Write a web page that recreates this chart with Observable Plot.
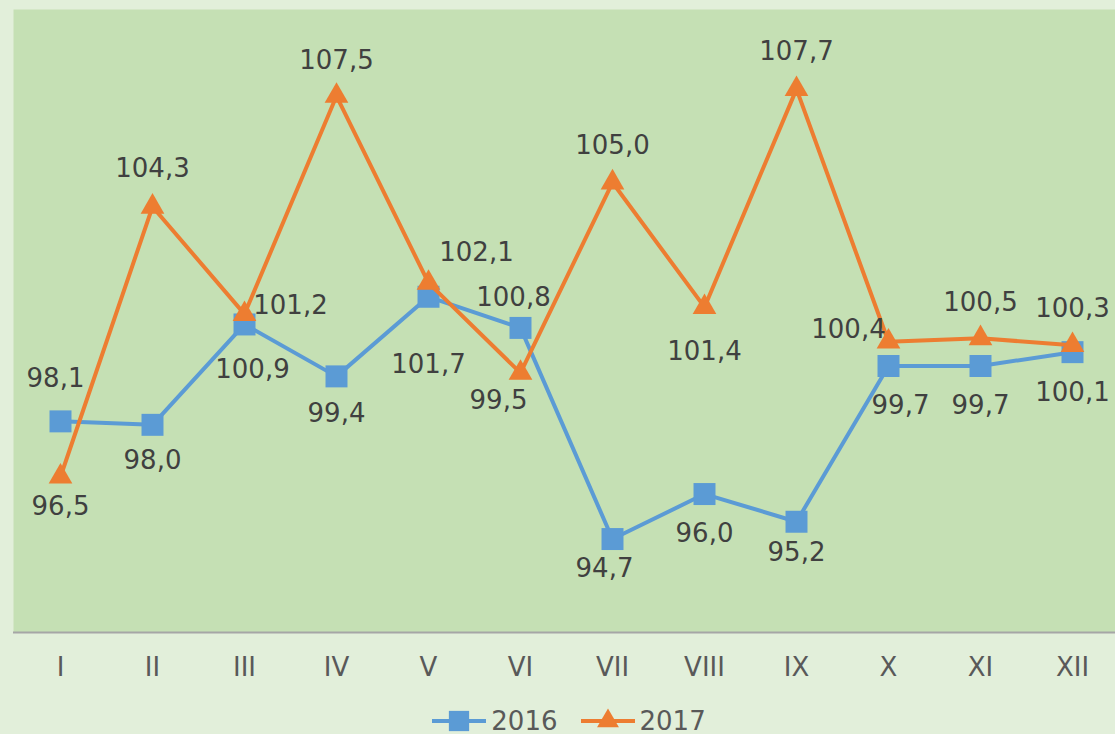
<!DOCTYPE html>
<html>
<head>
<meta charset="utf-8">
<script src="https://cdn.jsdelivr.net/npm/d3@7"></script>
<script src="https://cdn.jsdelivr.net/npm/@observablehq/plot@0.6"></script>
<style>
  html, body { margin: 0; padding: 0; background: #e2efda; overflow: hidden; }
  #legend { display: flex; justify-content: center; align-items: center; height: 28px; margin-top: 1px;
    font-family: "DejaVu Sans", Verdana, sans-serif; font-size: 26px; color: #595959; padding-left: 22px; }
  .item { display: flex; align-items: center; margin: 0 11px; }
  .item svg { margin-right: 4px; }
</style>
</head>
<body>
<div id="chart"></div>
<div id="legend"></div>
<script>
const months = ["I","II","III","IV","V","VI","VII","VIII","IX","X","XI","XII"];
const values2016 = [98.1, 98.0, 100.9, 99.4, 101.7, 100.8, 94.7, 96.0, 95.2, 99.7, 99.7, 100.1];
const values2017 = [96.5, 104.3, 101.2, 107.5, 102.1, 99.5, 105.0, 101.4, 107.7, 100.4, 100.5, 100.3];
const seriesNames = ["2016", "2017"];

// label placement (styling only): [dx, dy] from each point
const labelOffsets2016 = [[-5,-43],[0,36],[8,45],[0,37],[0,68],[-7,-30],[-8,30],[0,40],[0,31],[12,40],[0,40],[0,41]];
const labelOffsets2017 = [[0,30],[0,-38],[46,-8],[0,-35],[48,-30],[-22,28],[0,-37],[0,45],[0,-37],[-40,-12],[0,-36],[0,-37]];

const colors = {"2016": "#5b9bd5", "2017": "#ed7d31"};
const symbols = {"2016": "square", "2017": "triangle"};
const radii = {"2016": 12.4, "2017": 8.8};
const fmt = v => d3.format(".1f")(v).replace(".", ",");

const s2016 = months.map((m, i) => ({month: m, value: values2016[i], off: labelOffsets2016[i]}));
const s2017 = months.map((m, i) => ({month: m, value: values2017[i], off: labelOffsets2017[i]}));
const series = [["2016", s2016], ["2017", s2017]];

const font = '"DejaVu Sans", Verdana, sans-serif';
const marks = [
  Plot.frame({fill: "#c5e0b4", stroke: null}),
  Plot.ruleY([92], {stroke: "#a6a6a6", strokeWidth: 2}),
  Plot.axisX({tickSize: 0, tickPadding: 25, fontSize: 26, fill: "#595959", label: null, fontFamily: font})
];
for (const [name, data] of series) {
  marks.push(Plot.line(data, {x: "month", y: "value", stroke: colors[name], strokeWidth: 4}));
  marks.push(Plot.dot(data, {x: "month", y: "value", symbol: symbols[name], r: radii[name], fill: colors[name], stroke: null}));
}
for (const [name, data] of series) {
  for (const d of data) {
    marks.push(Plot.text([d], {x: "month", y: "value", text: d => fmt(d.value), dx: d.off[0], dy: d.off[1],
      fontSize: 26, fill: "#404040", fontFamily: font}));
  }
}

const chart = Plot.plot({
  width: 1115,
  height: 706,
  marginLeft: 13,
  marginRight: 0,
  marginTop: 9,
  marginBottom: 74,
  style: {background: "transparent", fontFamily: font},
  x: {type: "point", domain: months, range: [60, 1072], padding: 0, axis: null},
  y: {domain: [92, 110], axis: null},
  marks
});
document.getElementById("chart").appendChild(chart);

const legend = document.getElementById("legend");
for (const name of seriesNames) {
  const item = document.createElement("div");
  item.className = "item";
  const svg = d3.create("svg").attr("width", 56).attr("height", 28);
  svg.append("line").attr("x1", 1).attr("x2", 55).attr("y1", 14).attr("y2", 14)
    .attr("stroke", colors[name]).attr("stroke-width", 4);
  svg.append("path").attr("transform", "translate(28,14)")
    .attr("d", d3.symbol(name === "2016" ? d3.symbolSquare : d3.symbolTriangle, Math.PI * radii[name] ** 2 * 0.85)())
    .attr("fill", colors[name]);
  item.appendChild(svg.node());
  const t = document.createElement("span");
  t.textContent = name;
  item.appendChild(t);
  legend.appendChild(item);
}
</script>
</body>
</html>
